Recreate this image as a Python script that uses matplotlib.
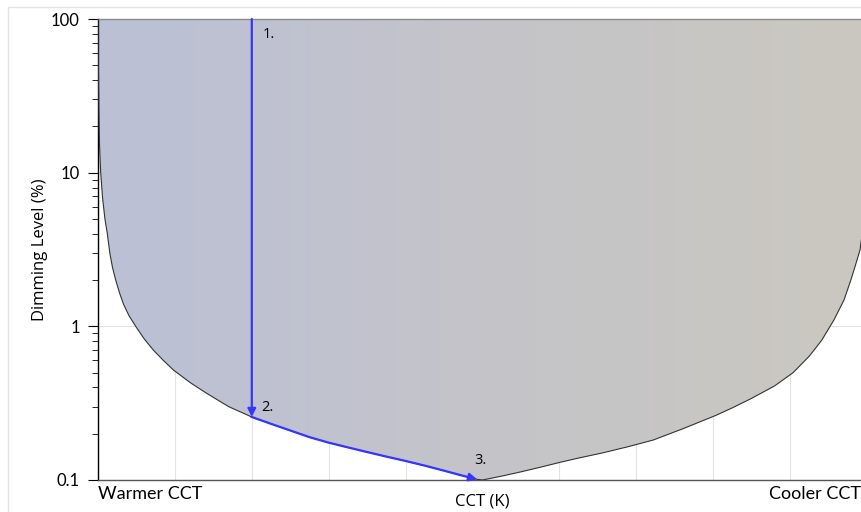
"""Dimming curve: CCT range available at each dimming level, with the
1-2-3 dim path drawn on top."""

import matplotlib

matplotlib.use("Agg")
import matplotlib.pyplot as plt
import numpy as np
from matplotlib.colors import LinearSegmentedColormap
from matplotlib.patches import Rectangle
from matplotlib.ticker import LogLocator, NullFormatter, FixedLocator

# boundary of the reachable region (x = position from warm to cool, y = dimming %)
cct_pos = [0.0, 0.005, 0.012, 0.02, 0.035, 0.06, 0.09, 0.12, 0.155, 0.19, 0.23,
           0.28, 0.33, 0.4, 0.49, 0.6, 0.72, 0.85, 0.98, 1.2, 1.4, 1.7, 2.0,
           2.25, 2.5, 2.75, 3.0, 3.25, 3.5, 3.75, 4.0, 4.25, 4.5, 4.7, 4.93, 5.0,
           5.25, 5.5, 5.75, 6.0, 6.25, 6.56, 6.9, 7.22, 7.4, 7.6, 7.8, 8.04,
           8.25, 8.5, 8.8, 9.04, 9.25, 9.41, 9.57, 9.7, 9.79, 9.85, 9.91, 9.95,
           9.97, 9.985, 10.0]
dim_level = [100, 50, 25, 15, 10, 6.8, 5.0, 4.05, 2.97, 2.4, 2.0,
             1.65, 1.40, 1.18, 1.0, 0.83, 0.70, 0.6, 0.52, 0.43, 0.37, 0.3, 0.257,
             0.232, 0.21, 0.19, 0.175, 0.163, 0.152, 0.142, 0.133, 0.124, 0.115, 0.108, 0.101, 0.1,
             0.106, 0.113, 0.121, 0.13, 0.139, 0.15, 0.165, 0.182, 0.197, 0.215, 0.236, 0.264,
             0.295, 0.34, 0.41, 0.50, 0.64, 0.81, 1.1, 1.48, 2.0, 2.5, 3.15, 4.5,
             6.6, 12, 100]

# dim path: step 1 -> 2 straight down, then 2 -> 3 along the curve
step_x = [2.0, 2.0, 4.93]
step_y = [100, 0.257, 0.101]
step_labels = ["1.", "2.", "3."]

y_ticks = [0.1, 1, 10, 100]
y_ticklabels = ["0.1", "1", "10", "100"]

BLUE = "#3535ff"
W, H = 861, 512

fig = plt.figure(figsize=(W / 100, H / 100), dpi=100)
fig.patches.append(Rectangle((8 / W, -0.1), 1.2, 1.1 - 7 / H, transform=fig.transFigure,
                             fill=False, edgecolor="#e2e2e2", linewidth=1))
ax = fig.add_axes([98 / W, 1 - 480 / H, (867 - 98) / W, (480 - 19) / H])

ax.set_yscale("log")
ax.set_xlim(0, 10)
ax.set_ylim(0.1, 100)

# gradient fill clipped to the region above the curve
poly = ax.fill_between(cct_pos, dim_level, 100, facecolor="none", edgecolor="none")
cmap = LinearSegmentedColormap.from_list("cct", ["#bbc0d6", "#c4c4c9", "#cbc8c0"])
grad = np.linspace(0, 1, 256).reshape(1, -1)
im = ax.imshow(grad, cmap=cmap, extent=[0, 1, 0, 1], transform=ax.transAxes,
               aspect="auto", zorder=2)
im.set_clip_path(poly.get_paths()[0], transform=ax.transData)
ax.plot(cct_pos, dim_level, color="#333333", lw=0.8, zorder=3)

# the dim path
path_x = [x for x in cct_pos if step_x[1] <= x <= step_x[2]]
path_y = [y for x, y in zip(cct_pos, dim_level) if step_x[1] <= x <= step_x[2]]
ax.plot(path_x[:-1], path_y[:-1], color=BLUE, lw=1.6, zorder=4)
arrow = dict(arrowstyle="-|>", color=BLUE, lw=1.6, mutation_scale=12, shrinkA=0, shrinkB=0)
ax.annotate("", xy=(step_x[1], step_y[1]), xytext=(step_x[0], step_y[0]),
            arrowprops=arrow, zorder=5)
ax.annotate("", xy=(step_x[2], step_y[2]), xytext=(path_x[-2], path_y[-2]),
            arrowprops=arrow, zorder=5)
offsets = [(11, -15), (9, 10), (-3, 19)]
for x, y, lab, (dx, dy) in zip(step_x, step_y, step_labels, offsets):
    ax.annotate(lab, (x, y), xytext=(dx, dy), textcoords="offset pixels",
                fontsize=10.5, family="Open Sans", ha="left", va="center", zorder=6)

# axes styling
ax.xaxis.set_major_locator(FixedLocator(range(0, 11)))
ax.tick_params(axis="x", length=0, labelbottom=False)
ax.grid(True, axis="x", color="#e3e3e3", lw=0.8, zorder=0)
ax.yaxis.set_major_locator(FixedLocator(y_ticks))
ax.set_yticklabels(y_ticklabels, family="Lato", fontsize=12)
ax.yaxis.set_minor_locator(LogLocator(base=10, subs=np.arange(2, 10)))
ax.yaxis.set_minor_formatter(NullFormatter())
ax.tick_params(axis="y", which="major", length=7, width=0.8, pad=6)
ax.tick_params(axis="y", which="minor", length=4, width=0.6)
ax.grid(True, axis="y", which="major", color="#e3e3e3", lw=0.8, zorder=0)
ax.set_axisbelow(True)

ax.spines["left"].set_color("black")
ax.spines["bottom"].set_color("#555555")
ax.spines["top"].set_color("#8a8a8a")
ax.spines["right"].set_visible(False)
for s in ax.spines.values():
    s.set_linewidth(1)

ax.set_ylabel("Dimming Level (%)", family="Open Sans", fontsize=12, labelpad=2)
ax.text(0, -0.012, "Warmer CCT", transform=ax.transAxes, ha="left", va="top",
        family="Lato", fontsize=13)
ax.text(1 - 6 / 769, -0.012, "Cooler CCT", transform=ax.transAxes, ha="right", va="top",
        family="Lato", fontsize=13)
ax.text(0.5, -0.03, "CCT (K)", transform=ax.transAxes, ha="center", va="top",
        family="Open Sans", fontsize=12)

fig.savefig("out.png", dpi=100)
